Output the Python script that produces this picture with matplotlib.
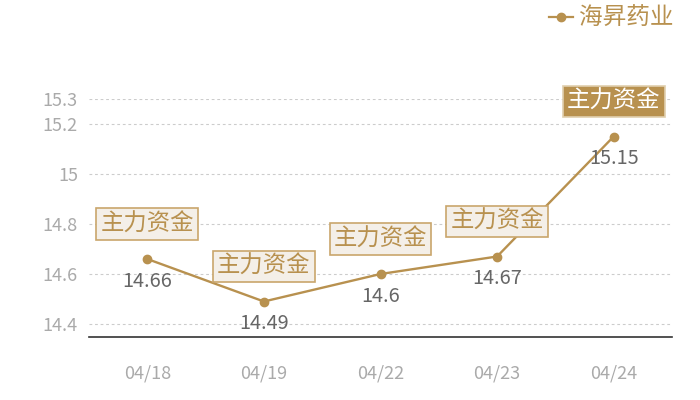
import matplotlib
matplotlib.use("Agg")
import matplotlib.pyplot as plt

plt.rcParams['font.family'] = ['Noto Sans CJK SC', 'DejaVu Sans']

dates = ["04/18", "04/19", "04/22", "04/23", "04/24"]
prices = [14.66, 14.49, 14.6, 14.67, 15.15]
yticks = [14.4, 14.6, 14.8, 15.0, 15.2, 15.3]
ytick_labels = ["14.4", "14.6", "14.8", "15", "15.2", "15.3"]
series_name = "海昇药业"
tag_text = "主力资金"

GOLD = "#b8914f"
fig = plt.figure(figsize=(7, 4), dpi=100)
ax = fig.add_axes([89/700, 1-337/400, (672-89)/700, (337-99)/400])

x = list(range(len(dates)))
ax.plot(x, prices, color=GOLD, lw=1.7, marker="o", ms=6, zorder=3)

ax.set_xlim(-0.5, len(dates) - 0.5)
ax.set_ylim(14.348, 15.3)
ax.set_yticks(yticks)
ax.set_yticklabels(ytick_labels)
ax.set_xticks(x)
ax.set_xticklabels(dates)
ax.tick_params(axis="both", length=0, colors="#aaaaaa", labelsize=13)
ax.tick_params(axis="x", pad=20)
ax.tick_params(axis="y", pad=8)
for s in ["top", "right", "left"]:
    ax.spines[s].set_visible(False)
ax.spines["bottom"].set_color("#333333")
ax.spines["bottom"].set_linewidth(1.2)
ax.grid(axis="y", color="#cccccc", ls=(0, (2.5, 2.5)), lw=0.8)
ax.set_axisbelow(True)

for i, v in enumerate(prices):
    ax.annotate(f"{v:g}", (i, v), xytext=(0, -22), textcoords="offset pixels",
                ha="center", va="center", fontsize=14.3, color="#666666", zorder=4)
    last = i == len(prices) - 1
    ax.annotate(tag_text, (i, v), xytext=(0, 35), textcoords="offset pixels",
                ha="center", va="center", fontsize=16.8,
                color="white" if last else GOLD, zorder=5,
                bbox=dict(boxstyle="square,pad=0.18",
                          fc=GOLD if last else "#f4efe8",
                          ec="#e0cfae" if last else "#c9a66c", lw=1.2))

# legend
fig.lines.append(plt.Line2D([549/700, 573/700], [1-17/400, 1-17/400],
                            transform=fig.transFigure, color=GOLD, lw=1.6))
fig.lines.append(plt.Line2D([561/700], [1-17/400], transform=fig.transFigure,
                            color=GOLD, marker="o", ms=6))
fig.text(579/700, 1-18/400, series_name, ha="left", va="center",
         fontsize=17, color=GOLD)

fig.savefig("out.png", dpi=100)
